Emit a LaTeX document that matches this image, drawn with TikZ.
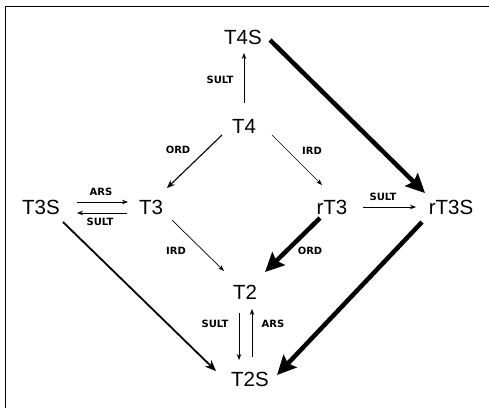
\documentclass[tikz,border=0pt]{standalone}
\usepackage{fontspec}
\setmainfont{Liberation Sans}
\newfontfamily\lblfont{DejaVu Sans}
\usetikzlibrary{arrows.meta,calc}
\begin{document}
\begin{tikzpicture}[x=1pt,y=-1pt,
  nd/.style={font=\fontsize{20.5}{20.5}\selectfont, inner sep=0pt},
  lb/.style={font=\lblfont\bfseries\fontsize{10}{10}\selectfont, inner sep=0pt},
  thinarr/.style={line width=0.7pt, -{Stealth[length=6pt,width=4.5pt]}},
  midarr/.style={line width=1.1pt, -{Stealth[length=8pt,width=6.5pt]}},
  medarr/.style={line width=1.8pt, -{Stealth[length=11pt,width=9pt]}},
  thickarr/.style={line width=4.5pt, -{Stealth[length=19pt,width=18pt,inset=3pt]}},
  frame/.style={line width=1pt}
]
\useasboundingbox (0,0) rectangle (489,408);
\draw[frame] (5,408) -- (5,6) -- (489,6);

\node[nd] (T4S)  at (243,37)  {T4S};
\node[nd] (T4)   at (244,126) {T4};
\node[nd] (T3S)  at (41,207)  {T3S};
\node[nd] (T3)   at (151,207) {T3};
\node[nd] (rT3)  at (332,207) {rT3};
\node[nd] (rT3S) at (451,207) {rT3S};
\node[nd] (T2)   at (245,292) {T2};
\node[nd] (T2S)  at (250,379) {T2S};

% connectors
\draw[thinarr] ($(T4)+(0,-23)$) -- ($(T4S)+(1,16)$);
\draw[midarr]  ($(T4)+(-22,9)$) -- ($(T3)+(16,-19)$);
\draw[thinarr] ($(T4)+(28,9)$) -- ($(rT3)+(-10,-22)$);
\draw[thinarr] ($(T3S)+(36,-5)$) -- ($(T3)+(-23,-5)$);
\draw[thinarr] ($(T3)+(-24,6)$) -- ($(T3S)+(36,6)$);
\draw[thinarr] ($(rT3)+(31,0)$) -- ($(rT3S)+(-35,0)$);
\draw[thinarr] ($(T3)+(21,13)$) -- ($(T2)+(-21,-21)$);
\draw[thickarr] ($(rT3)+(-12,11)$) -- ($(T2)+(20,-20)$);
\draw[thickarr] ($(T4S)+(27,3)$) -- ($(rT3S)+(-26,-14)$);
\draw[thickarr] ($(rT3S)+(-29,15)$) -- ($(T2S)+(27,-4)$);
\draw[medarr]  ($(T3S)+(22,15)$) -- ($(T2S)+(-34,-8)$);
\draw[thinarr] ($(T2)+(-6,21)$) -- ($(T2S)+(-11,-19)$);
\draw[thinarr] ($(T2S)+(2,-22)$) -- ($(T2)+(7,17)$);

% labels
\node[lb] (l1)  at (220,80)  {SULT};
\node[lb] (l2)  at (178,150) {ORD};
\node[lb] (l3)  at (312,151) {IRD};
\node[lb] (l4)  at (101,192) {ARS};
\node[lb] (l5)  at (100,222) {SULT};
\node[lb] (l6)  at (176,251) {IRD};
\node[lb] (l7)  at (310,251) {ORD};
\node[lb] (l8)  at (383,197) {SULT};
\node[lb] (l9)  at (215,324) {SULT};
\node[lb] (l10) at (273,324) {ARS};
\end{tikzpicture}
\end{document}
